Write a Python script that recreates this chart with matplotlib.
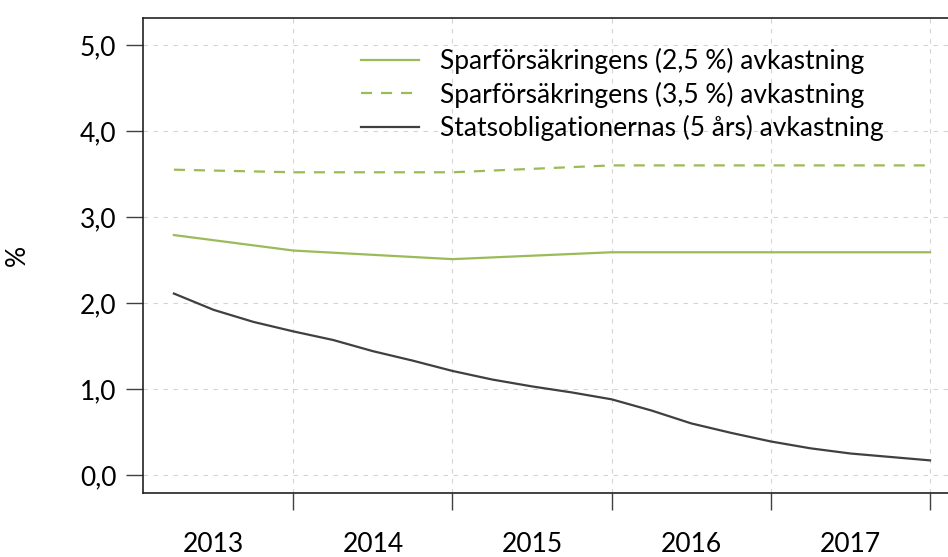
import matplotlib
matplotlib.use('Agg')
import matplotlib.pyplot as plt
from matplotlib.ticker import FixedLocator, FuncFormatter

plt.rcParams['font.family'] = ['Lato', 'DejaVu Sans']

# quarterly time axis (year fractions)
black_t = [2013.25, 2013.5, 2013.75, 2014.0, 2014.25, 2014.5, 2014.75, 2015.0,
           2015.25, 2015.5, 2015.75, 2016.0, 2016.25, 2016.5, 2016.75, 2017.0,
           2017.25, 2017.5, 2017.75, 2018.0]
statsoblig = [2.11, 1.92, 1.78, 1.67, 1.57, 1.44, 1.33, 1.21,
              1.11, 1.03, 0.96, 0.88, 0.75, 0.60, 0.49, 0.39,
              0.31, 0.25, 0.21, 0.17]

green_t = [2013.25, 2014.0, 2015.0, 2016.0, 2017.0, 2018.0]
spar_25 = [2.79, 2.61, 2.51, 2.59, 2.59, 2.59]
spar_35 = [3.55, 3.52, 3.52, 3.60, 3.60, 3.60]

labels = ['Sparförsäkringens (2,5 %) avkastning',
          'Sparförsäkringens (3,5 %) avkastning',
          'Statsobligationernas (5 års) avkastning']
years = ['2013', '2014', '2015', '2016', '2017']
year_bounds = [2014, 2015, 2016, 2017, 2018]
y_ticks = [0, 1, 2, 3, 4, 5]

GREEN = '#9bbb59'
DARK = '#404040'
FS = 19

fig = plt.figure(figsize=(9.48, 5.57), dpi=100)
ax = fig.add_axes([0.1512, 0.1154, 0.8488, 0.8517])

ax.plot(green_t, spar_25, color=GREEN, lw=1.6, label=labels[0])
ax.plot(green_t, spar_35, color=GREEN, lw=1.6, dashes=(5, 4), label=labels[1])
ax.plot(black_t, statsoblig, color=DARK, lw=1.6, label=labels[2])

ax.set_xlim(2013.058, 2018.113)
ax.set_ylim(-0.206, 5.31)

ax.yaxis.set_major_locator(FixedLocator(y_ticks))
ax.yaxis.set_major_formatter(FuncFormatter(lambda v, p: f'{v:.1f}'.replace('.', ',')))
ax.xaxis.set_major_locator(FixedLocator(year_bounds))
ax.xaxis.set_major_formatter(FuncFormatter(lambda v, p: ''))
ax.xaxis.set_minor_locator(FixedLocator([y + 0.5 for y in range(2013, 2018)]))
ax.xaxis.set_minor_formatter(FuncFormatter(lambda v, p: years[int(v - 2013)]))

ax.tick_params(axis='y', length=12.5, width=1, color='#404040', labelsize=FS, pad=7)
ax.tick_params(axis='x', which='major', length=12.5, width=1, color='#404040')
ax.tick_params(axis='x', which='minor', length=0, labelsize=FS, pad=28)

ax.grid(True, color='#d4d4d4', lw=0.8, linestyle=(0, (4, 5)))
ax.set_axisbelow(True)

for s in ['left', 'bottom', 'top']:
  ax.spines[s].set_linewidth(1.2)
  ax.spines[s].set_color('#222222')
ax.spines['right'].set_visible(False)

ax.set_ylabel('%', fontsize=FS)
ax.yaxis.set_label_coords(-0.1408, 0.5)

ax.legend(loc='upper left', bbox_to_anchor=(360.7 / 948, 1 - 48 / 557),
          bbox_transform=fig.transFigure, frameon=False, fontsize=FS,
          handlelength=2.2, handletextpad=0.8, labelspacing=0.28,
          borderpad=0, borderaxespad=0)

fig.savefig('out.png', dpi=100)
